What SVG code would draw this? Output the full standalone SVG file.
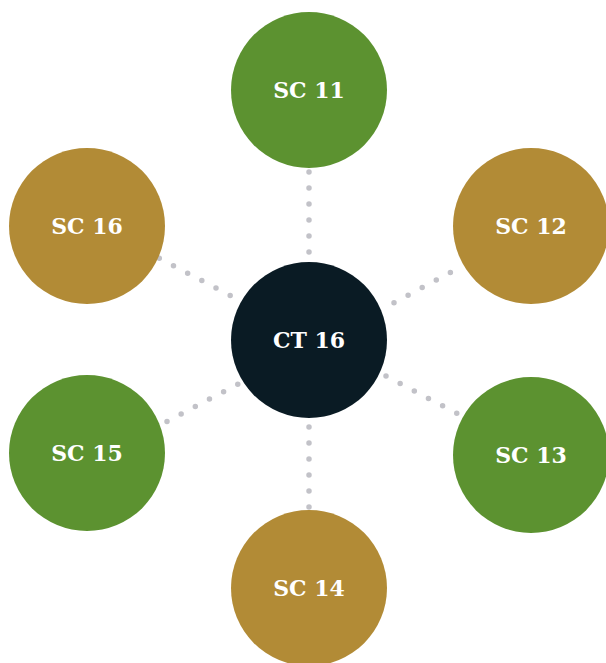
<svg xmlns="http://www.w3.org/2000/svg" width="606" height="663" viewBox="0 0 606 663">
<style>
.g{fill:#5c9230}.o{fill:#b28b36}.d{fill:#0a1b24}
text{font-family:"DejaVu Serif","Liberation Serif",serif;font-weight:bold;font-size:22px;fill:#ffffff;text-anchor:middle}
.c line{stroke:#c2c2c8;stroke-width:5.5;stroke-linecap:round;stroke-dasharray:0 16}
</style>
<rect width="606" height="663" fill="#ffffff"/>
<g id="connectors" class="c">
<line x1="309" y1="172" x2="309" y2="262"/>
<line x1="309" y1="427" x2="309" y2="510"/>
<line x1="159.3" y1="258.3" x2="238" y2="299.5"/>
<line x1="167" y1="421.5" x2="240" y2="383"/>
<line x1="394" y1="302.7" x2="453" y2="271"/>
<line x1="386" y1="376" x2="458" y2="414"/>
</g>
<g id="ct16"><circle class="d" cx="309" cy="340" r="78"/><text x="309" y="348">CT 16</text></g>
<g id="sc11"><circle class="g" cx="309" cy="90" r="78"/><text x="309" y="98">SC 11</text></g>
<g id="sc12"><circle class="o" cx="531" cy="226" r="78"/><text x="531" y="234">SC 12</text></g>
<g id="sc13"><circle class="g" cx="531" cy="455" r="78"/><text x="531" y="463">SC 13</text></g>
<g id="sc14"><circle class="o" cx="309" cy="588" r="78"/><text x="309" y="596">SC 14</text></g>
<g id="sc15"><circle class="g" cx="87" cy="453" r="78"/><text x="87" y="461">SC 15</text></g>
<g id="sc16"><circle class="o" cx="87" cy="226" r="78"/><text x="87" y="234">SC 16</text></g>
</svg>
